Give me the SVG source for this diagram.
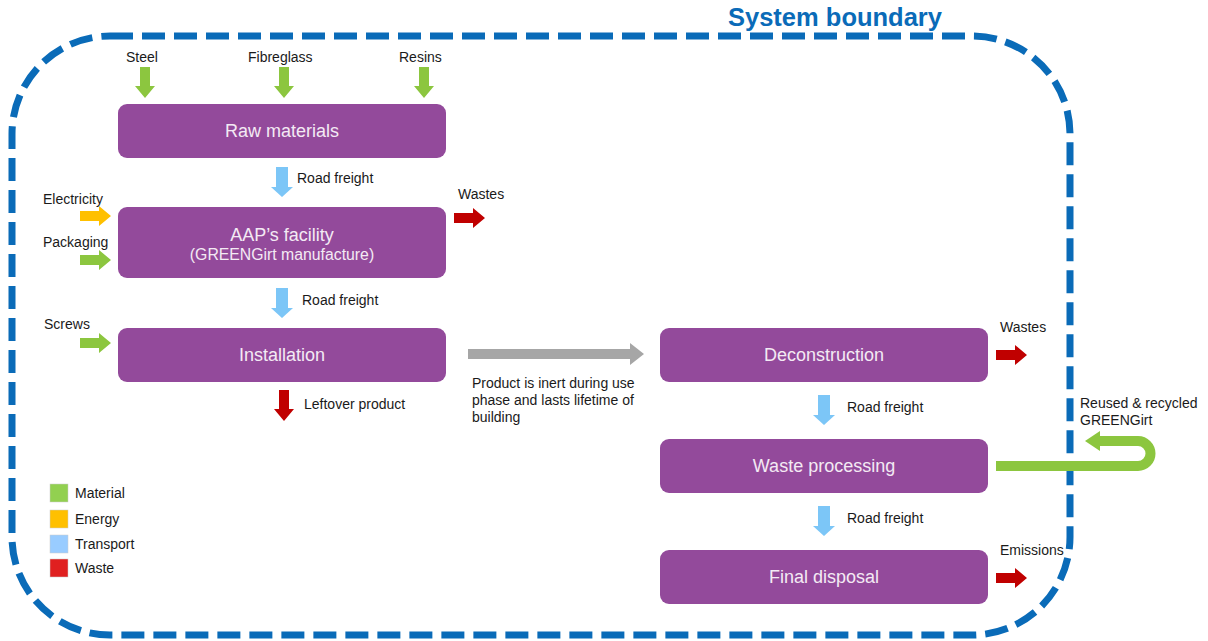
<svg xmlns="http://www.w3.org/2000/svg" width="1208" height="641" viewBox="0 0 1208 641">
<style>
.node{fill:#934A9B;}
.nt{font-family:"Liberation Sans",Arial,sans-serif;font-size:18px;fill:#F3EAF4;text-anchor:middle;}
.ns{font-family:"Liberation Sans",Arial,sans-serif;font-size:15.8px;fill:#F3EAF4;text-anchor:middle;}
.lb{font-family:"Liberation Sans",Arial,sans-serif;font-size:14px;fill:#1a1a1a;}
.mat{fill:#8CC63F;}
.en{fill:#FFC000;}
.tr{fill:#7CC6F7;}
.ws{fill:#C00000;}
</style>
<defs>
<path id="arr" d="M0,-5 H19 V-10 L31,0 L19,10 V5 H0 Z"/>
<path id="arrT" d="M0,-6 H20 V-11 L30,0 L20,11 V6 H0 Z"/>
</defs>

<g id="boundary">
<rect x="12" y="36" width="1058" height="599" rx="98" ry="98" fill="none" stroke="#0A6BB8" stroke-width="7" stroke-dasharray="23,9"/>
<text x="728" y="26" font-family="Liberation Sans,Arial,sans-serif" font-size="25.5" font-weight="bold" fill="#0A6BB8">System boundary</text>
</g>

<g id="raw-materials">
<rect class="node" x="118" y="104" width="328" height="54" rx="9"/>
<text class="nt" x="282" y="137">Raw materials</text>
</g>
<g id="aap-facility">
<rect class="node" x="118" y="207" width="328" height="71" rx="9"/>
<text class="nt" x="282" y="241">AAP’s facility</text>
<text class="ns" x="282" y="260">(GREENGirt manufacture)</text>
</g>
<g id="installation">
<rect class="node" x="118" y="328" width="328" height="54" rx="9"/>
<text class="nt" x="282" y="361">Installation</text>
</g>
<g id="deconstruction">
<rect class="node" x="660" y="328" width="328" height="54" rx="9"/>
<text class="nt" x="824" y="361">Deconstruction</text>
</g>
<g id="waste-processing">
<rect class="node" x="660" y="439" width="328" height="54" rx="9"/>
<text class="nt" x="824" y="472">Waste processing</text>
</g>
<g id="final-disposal">
<rect class="node" x="660" y="550" width="328" height="54" rx="9"/>
<text class="nt" x="824" y="583">Final disposal</text>
</g>

<g id="connectors">
<use href="#arr" class="mat" transform="translate(145,67) rotate(90)"/>
<use href="#arr" class="mat" transform="translate(284,67) rotate(90)"/>
<use href="#arr" class="mat" transform="translate(424,67) rotate(90)"/>
<use href="#arrT" class="tr" transform="translate(282,167) rotate(90)"/>
<use href="#arr" class="en" transform="translate(80,216)"/>
<use href="#arr" class="mat" transform="translate(80,260)"/>
<use href="#arr" class="ws" transform="translate(454,218)"/>
<use href="#arrT" class="tr" transform="translate(282,288) rotate(90)"/>
<use href="#arr" class="mat" transform="translate(80,343)"/>
<use href="#arr" class="ws" transform="translate(284,390) rotate(90)"/>
<path d="M468,349 H630 V343 L644,354 L630,365 V359 H468 Z" fill="#A6A6A6"/>
<use href="#arr" class="ws" transform="translate(996,355)"/>
<use href="#arrT" class="tr" transform="translate(824,395) rotate(90)"/>
<use href="#arrT" class="tr" transform="translate(824,506) rotate(90)"/>
<use href="#arr" class="ws" transform="translate(996,578)"/>
<path d="M996,466 H1138 A12.5,12.5 0 0 0 1138,441 H1098" fill="none" stroke="#8CC63F" stroke-width="10"/>
<path d="M1100,431 L1085,441 L1100,451 Z" fill="#8CC63F"/>
</g>

<g id="labels">
<text class="lb" x="126" y="62">Steel</text>
<text class="lb" x="248" y="62">Fibreglass</text>
<text class="lb" x="399" y="62">Resins</text>
<text class="lb" x="297" y="183">Road freight</text>
<text class="lb" x="43" y="204">Electricity</text>
<text class="lb" x="43" y="247">Packaging</text>
<text class="lb" x="458" y="199">Wastes</text>
<text class="lb" x="302" y="305">Road freight</text>
<text class="lb" x="44" y="329">Screws</text>
<text class="lb" x="304" y="409">Leftover product</text>
<text class="lb" x="472" y="388">Product is inert during use</text>
<text class="lb" x="472" y="405">phase and lasts lifetime of</text>
<text class="lb" x="472" y="422">building</text>
<text class="lb" x="1000" y="332">Wastes</text>
<text class="lb" x="847" y="412">Road freight</text>
<text class="lb" x="847" y="523">Road freight</text>
<text class="lb" x="1000" y="555">Emissions</text>
<text class="lb" x="1080" y="408">Reused &amp; recycled</text>
<text class="lb" x="1080" y="425">GREENGirt</text>
</g>

<g id="legend">
<rect x="50" y="484" width="18" height="18" fill="#92D050" stroke="#ccc" stroke-width="0.5"/>
<rect x="50" y="510" width="18" height="18" fill="#FFC000" stroke="#ccc" stroke-width="0.5"/>
<rect x="50" y="535" width="18" height="18" fill="#99CCFF" stroke="#ccc" stroke-width="0.5"/>
<rect x="50" y="559" width="18" height="18" fill="#E02020" stroke="#ccc" stroke-width="0.5"/>
<text class="lb" x="75" y="498">Material</text>
<text class="lb" x="75" y="524">Energy</text>
<text class="lb" x="75" y="549">Transport</text>
<text class="lb" x="75" y="573">Waste</text>
</g>
</svg>
